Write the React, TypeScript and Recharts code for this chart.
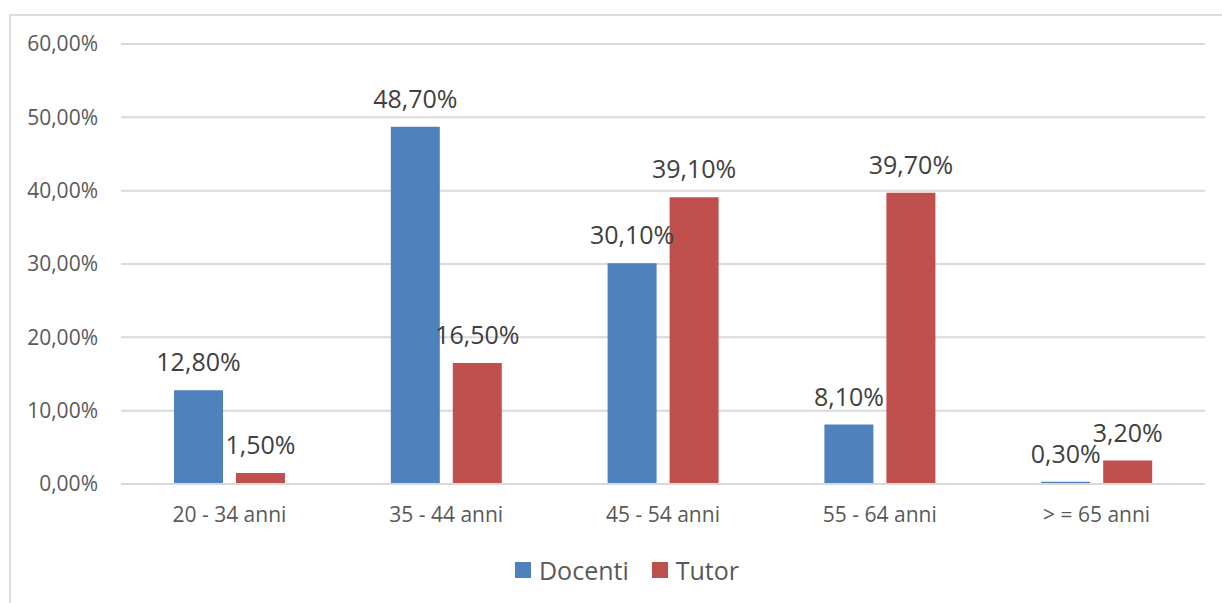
import React from 'react';
import { BarChart, Bar, XAxis, YAxis, CartesianGrid, Legend, LabelList } from 'recharts';

const categories = ['20 - 34 anni', '35 - 44 anni', '45 - 54 anni', '55 - 64 anni', '> = 65 anni'];
const docenti = [12.8, 48.7, 30.1, 8.1, 0.3];
const tutor = [1.5, 16.5, 39.1, 39.7, 3.2];
const yTicks = [0, 10, 20, 30, 40, 50, 60];

const BLUE = '#4F81BD';
const RED = '#C0504D';
const GRID = '#d9d9d9';
const FONT = '"Open Sans", sans-serif';

const data = categories.map((name, i) => ({
  name,
  docenti: docenti[i],
  tutor: tutor[i],
}));

const fmt = (v: number) => v.toFixed(2).replace('.', ',') + '%';
const fmtLabel = (v: any) => Number(v).toFixed(2).replace('.', ',') + '%';

const LegendContent = ({ payload }: any) => (
  <div style={{ display: 'flex', justifyContent: 'center', fontFamily: FONT, fontSize: 25, color: '#595959' }}>
    {(payload || []).map((p: any, i: number) => (
      <div key={i} style={{ display: 'flex', alignItems: 'center', marginRight: i === 0 ? 23 : 0 }}>
        <span style={{ width: 16, height: 16, background: p.color, display: 'inline-block', marginRight: 8 }} />
        <span>{p.value}</span>
      </div>
    ))}
  </div>
);

export default function App() {
  return (
    <div style={{ position: 'fixed', left: 0, top: 0, width: 1222, height: 603, background: '#fff', overflow: 'hidden' }}>
      <div
        style={{
          position: 'absolute',
          left: 9,
          top: 14,
          width: 1300,
          height: 700,
          borderLeft: '2px solid #dedede',
          borderTop: '2px solid #dedede',
        }}
      />
      <div style={{ position: 'absolute', left: 0, top: 0 }}>
        <BarChart
          width={1222}
          height={603}
          data={data}
          margin={{ top: 44, right: 17, left: 0, bottom: 49 }}
          barGap={13}
          barSize={49}
          style={{ fontFamily: FONT }}
        >
          <CartesianGrid vertical={false} stroke={GRID} strokeWidth={2} />
          <XAxis
            dataKey="name"
            tickLine={false}
            axisLine={{ stroke: GRID, strokeWidth: 2 }}
            tickSize={0}
            tickMargin={23}
            height={30}
            tick={{ fill: '#595959', fontSize: 21 }}
            interval={0}
          />
          <YAxis
            width={121}
            domain={[0, 60]}
            ticks={yTicks}
            tickFormatter={fmt}
            axisLine={false}
            tickLine={false}
            tickSize={0}
            tickMargin={23}
            tick={{ fill: '#595959', fontSize: 21 }}
          />
          <Legend
            verticalAlign="bottom"
            height={40}
            content={<LegendContent />}
            wrapperStyle={{ left: 0, width: 1254, top: 553 }}
          />
          <Bar dataKey="docenti" name="Docenti" fill={BLUE} isAnimationActive={false}>
            <LabelList dataKey="docenti" position="top" offset={19} formatter={fmtLabel} style={{ fill: '#404040', fontSize: 25 }} />
          </Bar>
          <Bar dataKey="tutor" name="Tutor" fill={RED} isAnimationActive={false}>
            <LabelList dataKey="tutor" position="top" offset={19} formatter={fmtLabel} style={{ fill: '#404040', fontSize: 25 }} />
          </Bar>
        </BarChart>
      </div>
    </div>
  );
}
